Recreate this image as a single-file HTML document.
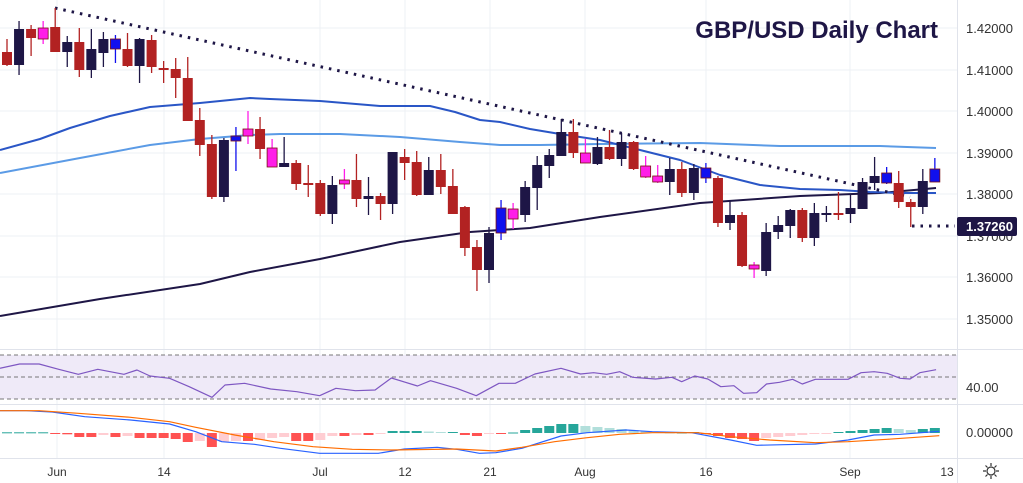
<!DOCTYPE html>
<html><head><meta charset="utf-8"><style>
html,body{margin:0;padding:0;background:#fff;}
svg{display:block;font-family:"Liberation Sans",sans-serif;}
</style></head><body>
<svg id="s" width="1023" height="483" viewBox="0 0 1023 483" xmlns="http://www.w3.org/2000/svg">
<rect width="1023" height="483" fill="#fff"/>
<g id="grid" stroke="#eef0f4" stroke-width="1"></g>
<rect x="0" y="355" width="957" height="44" fill="#efeaf8"/>
<g stroke="#777" stroke-width="1" stroke-dasharray="4,3">
<line x1="0" y1="355" x2="957" y2="355"/><line x1="0" y1="377" x2="957" y2="377"/><line x1="0" y1="399" x2="957" y2="399"/>
</g>
<g stroke="#e0e3eb" stroke-width="1">
<line x1="0" y1="349.5" x2="1023" y2="349.5"/><line x1="0" y1="404.5" x2="1023" y2="404.5"/><line x1="0" y1="458.5" x2="1023" y2="458.5"/>
<line x1="957.5" y1="0" x2="957.5" y2="483"/>
</g>
<g id="plot"></g>
<text x="938" y="38" text-anchor="end" font-size="24" font-weight="bold" fill="#1e1646">GBP/USD Daily Chart</text>
<g font-size="13" fill="#333" text-anchor="start">
<text x="966" y="33">1.42000</text><text x="966" y="75">1.41000</text><text x="966" y="116">1.40000</text>
<text x="966" y="158">1.39000</text><text x="966" y="199">1.38000</text><text x="966" y="241">1.37000</text>
<text x="966" y="282">1.36000</text><text x="966" y="324">1.35000</text>
<text x="966" y="392">40.00</text><text x="966" y="437">0.00000</text>
</g>
<rect x="957" y="217" width="60" height="19" rx="2" fill="#1e1646"/>
<text x="966" y="231" font-size="13" font-weight="bold" fill="#fff">1.37260</text>
<g font-size="12" fill="#333" text-anchor="middle">
<text x="57" y="476">Jun</text><text x="164" y="476">14</text><text x="320" y="476">Jul</text>
<text x="405" y="476">12</text><text x="490" y="476">21</text><text x="585" y="476">Aug</text>
<text x="706" y="476">16</text><text x="850" y="476">Sep</text><text x="947" y="476">13</text>
</g>
<g stroke="#333" fill="none" stroke-width="1.2"><circle cx="991" cy="471" r="4"/>
<path d="M991 463v3M991 476v3M983 471h3M996 471h3M985.5 465.5l2 2M994.5 474.5l2 2M985.5 476.5l2-2M994.5 467.5l2-2"/></g>
</svg>
<script>
var NS="http://www.w3.org/2000/svg",plot=document.getElementById('plot'),grid=document.getElementById('grid');
function el(t,a,p){var e=document.createElementNS(NS,t);for(var k in a)e.setAttribute(k,a[k]);(p||plot).appendChild(e);return e;}
[28,70,111,153,194,236,277,319].forEach(function(y){el('line',{x1:0,y1:y,x2:957,y2:y},grid);});
[57,164,320,405,490,585,706,850].forEach(function(x){el('line',{x1:x,y1:0,x2:x,y2:459},grid);});
function pl(pts,c,w,d){var s=pts.map(function(p){return p[0]+','+p[1];}).join(' ');var a={points:s,fill:'none',stroke:c,'stroke-width':w,'stroke-linejoin':'round'};if(d)a['stroke-dasharray']=d;el('polyline',a);}
// MAs
pl([[0,316],[100,299],[200,284],[250,272],[320,259],[400,242],[470,232],[530,228],[600,217],[700,203],[800,196],[880,193],[936,188]],'#1e1646',2);
pl([[0,173],[80,158],[150,145],[200,139],[250,135],[280,134],[340,134],[400,137],[460,142],[500,145],[540,145],[600,144],[700,143],[780,146],[880,146],[936,148]],'#5b9be6',2);
pl([[0,150],[40,139],[70,128],[110,116],[150,107],[200,103],[250,98],[270,99],[320,101],[380,106],[430,106],[455,112],[480,120],[500,122],[530,129],[560,134],[600,140],[640,150],[680,160],[720,175],[760,185],[800,189],[840,190],[870,192],[900,193],[936,193]],'#2a56c6',2);
// trendline
el('line',{x1:55,y1:8,x2:910,y2:197,stroke:'#1e1646','stroke-width':3,'stroke-dasharray':'2.5,6'});
el('line',{x1:912,y1:226,x2:955,y2:226,stroke:'#1e1646','stroke-width':3,'stroke-dasharray':'2.5,6'});
var C={r:'#b22222',n:'#1e1646',m:'#ff1ee8',b:'#1010ee'};
var d=[['r',52,65,39,66],['n',29,65,21,75],['r',29,38,25,56],['m',28,39,21,44],['r',27,52,8,52],['n',42,52,36,67],['r',42,70,28,77],['n',49,70,29,78],['n',39,53,32,67],['b',39,49,35,63],['r',49,66,33,67],['n',39,66,38,83],['r',40,67,35,73],['r',68,69,61,83],['r',69,78,58,98],['r',78,121,57,121],['r',120,145,108,156],['r',144,197,135,199],['n',140,197,138,202],['b',136,141,127,171],['m',129,136,111,144],['r',129,149,117,159],['m',148,167,139,167],['n',163,167,137,167],['r',163,184,160,190],['r',183,184,165,197],['r',183,214,180,216],['n',185,214,176,224],['m',180,184,169,189],['r',180,199,154,207],['n',196,199,177,215],['r',196,204,193,220],['n',152,204,152,214],['r',157,163,149,180],['r',162,195,151,196],['n',170,195,157,195],['r',170,187,154,194],['r',186,214,169,214],['r',207,248,206,256],['r',247,270,240,291],['n',233,270,227,283],['b',208,233,200,240],['m',209,219,203,229],['n',187,215,181,222],['n',165,188,156,210],['n',155,166,149,178],['n',132,156,119,156],['r',132,153,119,158],['m',153,163,139,163],['n',147,164,137,165],['r',147,159,130,160],['n',142,159,133,166],['r',142,169,141,170],['m',166,177,156,178],['m',176,182,165,183],['n',169,182,158,195],['r',169,193,162,197],['n',168,193,164,200],['b',168,178,163,183],['r',178,223,176,227],['n',215,223,201,230],['r',215,266,212,267],['m',265,269,262,278],['n',232,271,223,276],['n',225,232,216,239],['n',210,226,209,238],['r',210,238,208,242],['n',213,238,203,246],['n',213,215,206,222],['r',213,214,192,220],['n',208,214,195,223],['n',182,209,178,209],['n',176,183,157,190],['b',173,183,167,184],['r',183,202,171,208],['r',202,207,199,227],['n',181,207,169,214],['b',169,182,158,182]];
d.forEach(function(c,i){var x=7+12.05*i,col=C[c[0]];
el('line',{x1:x,y1:c[3],x2:x,y2:c[4],stroke:col,'stroke-width':1.3});
var h=Math.max(c[2]-c[1],2);el('rect',{x:x-5,y:c[1],width:10,height:h,fill:col,stroke:(c[0]=='m'||c[0]=='b')?'#7a1010':col,'stroke-width':(c[0]=='m'||c[0]=='b')?0.8:0});});
// RSI
var rz=[[0,85],[30,72],[60,72],[90,88],[120,103],[150,88],[190,103],[210,90],[230,108],[260,115],[290,140],[325,172],[345,135],[375,130],[415,147],[455,155],[490,167],[515,145],[545,152],[575,150],[600,114],[640,138],[660,122],[700,145],[730,167],[765,130],[790,130],[820,102],[860,85],[890,102],[910,98],[930,103],[950,95],[970,112],[1005,117],[1030,112],[1045,125],[1065,108],[1085,117],[1105,140],[1125,137],[1140,160],[1160,158],[1175,132],[1195,127],[1215,118],[1230,132],[1250,118],[1300,118],[1320,98],[1340,95],[1360,100],[1380,115],[1395,117],[1410,98],[1435,89]];
function cv(a){return a.map(function(p){return [(p[0]/1.533).toFixed(1),(340+p[1]/3).toFixed(1)];});}
pl(cv(rz),'#7e57c2',1.2);
// MACD hist
var hv=[.7,.7,.7,.7,-1,-1.3,-4,-4,-2,-4,-3,-5,-5,-5,-6,-9,-8,-14,-9,-8,-8,-7,-5,-4,-8,-8,-7,-3,-3,-2,-2,-1,2,2,2,1.5,1,1,-2,-3,-1,-1,.5,3,5,7,9,9,7,6,5,4,3,2,1,.5,.5,1,-1,-3,-5,-6,-8,-5,-4,-3,-2,-1,-.5,1,2,3,4,5,4,3,4,5];
hv.forEach(function(v,i){var x=7+12.05*i,prev=i?hv[i-1]:0,col;
if(v>=0)col=(v>=prev)?'#26a69a':'#b2dfdb';else col=(v<=prev)?'#ff5252':'#ffcdd2';
el('rect',{x:x-5,y:v>=0?433-v:433,width:10,height:Math.max(Math.abs(v),1),fill:col});});
pl(cv([[0,212],[40,212],[80,216],[130,230],[200,240],[260,252],[300,275],[340,305],[390,313],[430,325],[490,340],[580,340],[620,327],[670,322],[700,328],[735,340],[760,338],[800,325],[860,288],[900,278],[960,270],[1000,275],[1060,278],[1120,300],[1160,316],[1200,314],[1250,312],[1300,300],[1340,285],[1380,283],[1440,274]]),'#2962ff',1.2);
pl(cv([[0,212],[60,212],[120,220],[200,232],[260,245],[300,262],[360,285],[420,305],[480,320],[540,328],[600,330],[700,327],[760,333],[800,322],[850,305],[900,293],[950,283],[1000,278],[1070,278],[1120,290],[1180,300],[1250,308],[1300,305],[1360,298],[1440,287]]),'#ff6d00',1.2);
</script>
</body></html>
